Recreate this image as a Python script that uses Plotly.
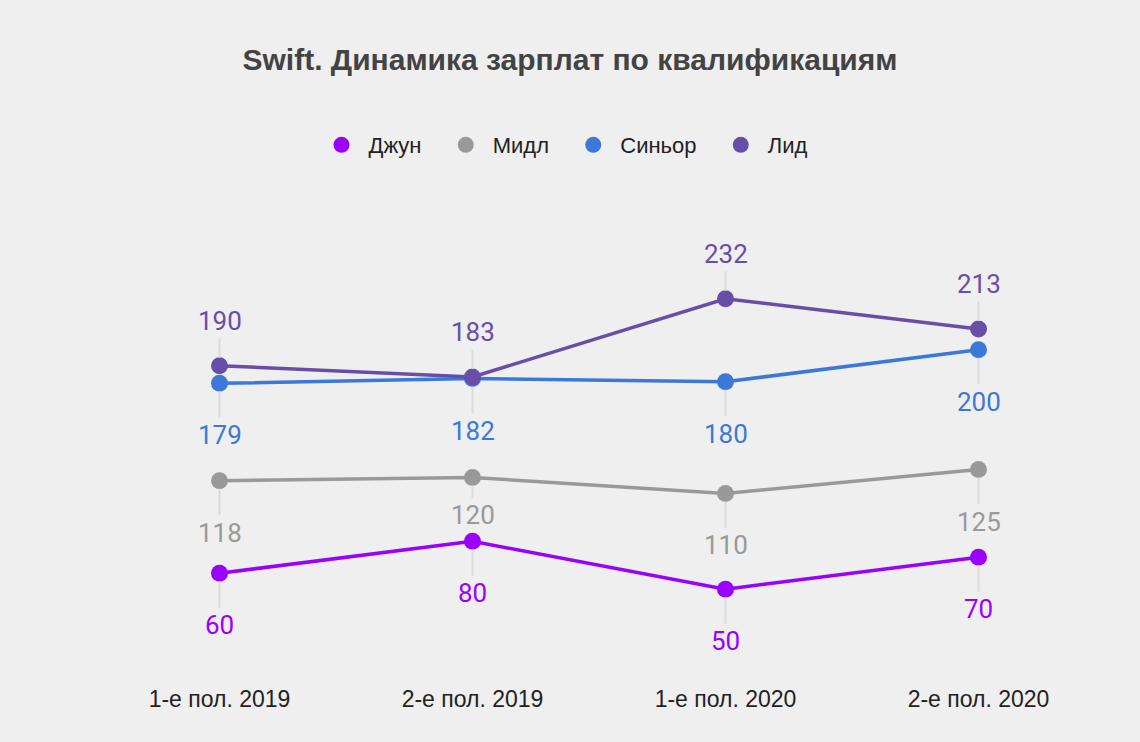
import plotly.graph_objects as go

categories = ["1-е пол. 2019", "2-е пол. 2019", "1-е пол. 2020", "2-е пол. 2020"]
series_names = ["Джун", "Мидл", "Синьор", "Лид"]
junior = [60, 80, 50, 70]
middle = [118, 120, 110, 125]
senior = [179, 182, 180, 200]
lead = [190, 183, 232, 213]

colors = ["#9900ff", "#999999", "#3c78d8", "#674ea7"]
label_side = ["below", "below", "below", "above"]

all_values = [junior, middle, senior, lead]

fig = go.Figure()
annotations = []
for name, vals, col, side in zip(series_names, all_values, colors, label_side):
    fig.add_trace(go.Scatter(
        x=categories, y=vals, mode="lines+markers", name=name,
        line=dict(color=col, width=3.5),
        marker=dict(color=col, size=17),
        showlegend=False, hoverinfo="skip",
    ))
    # legend-only trace (markers only)
    fig.add_trace(go.Scatter(
        x=[None], y=[None], mode="markers", name=name + "\u00a0\u00a0",
        marker=dict(color=col, size=16), showlegend=True,
    ))
    for i, (c, v) in enumerate(zip(categories, vals)):
        ay = -45 if side == "above" else 52
        if name == "Мидл" and i == 1:
            ay = 38
        annotations.append(dict(
            x=c, y=v, xref="x", yref="y", text=str(v),
            showarrow=True, arrowhead=0, arrowwidth=2, arrowcolor="#dcdcdc",
            ax=0, ay=ay, standoff=8, borderpad=2,
            font=dict(family="Roboto", size=26, color=col),
        ))

fig.update_layout(
    width=1140, height=742,
    paper_bgcolor="#efefef", plot_bgcolor="#efefef",
    margin=dict(l=93, r=35, t=270, b=73),
    title=dict(text="<b>Swift. Динамика зарплат по квалификациям</b>",
               x=0.5, xref="container", xanchor="center",
               y=1 - 59 / 742, yref="container", yanchor="middle",
               font=dict(family="Liberation Sans, Arial", size=30, color="#434343")),
    legend=dict(orientation="h", x=0.5, xref="container", xanchor="center",
                y=1 - 145 / 742, yref="container", yanchor="middle",
                itemwidth=44,
                font=dict(family="Liberation Sans, Arial", size=22, color="#222222"),
                bgcolor="rgba(0,0,0,0)"),
    xaxis=dict(type="category", range=[-0.5, 3.5], showgrid=False, zeroline=False,
               showline=False, ticks="outside", ticklen=9, tickcolor="rgba(0,0,0,0)",
               tickfont=dict(family="Liberation Sans, Arial", size=23, color="#222222")),
    yaxis=dict(range=[0, 250], visible=False, showgrid=False, zeroline=False),
    annotations=annotations,
    hovermode=False,
)

fig.write_html("out.html", post_script="document.body.style.margin='0';",
               config={"displayModeBar": False})
